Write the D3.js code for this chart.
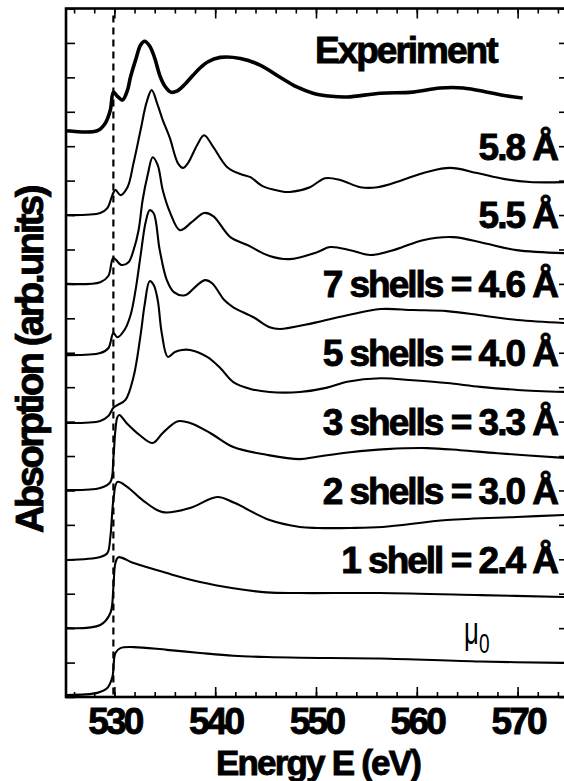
<!DOCTYPE html>
<html>
<head>
<meta charset="utf-8">
<script src="https://cdn.jsdelivr.net/npm/d3@7/dist/d3.min.js"></script>
<style>
  body { margin: 0; background: #fff; }
  svg { display: block; font-family: "Liberation Sans", Arial, sans-serif; }
  .heavy { font-weight: bold; fill: #000; stroke: #000; stroke-width: 0.9; paint-order: stroke; }
</style>
</head>
<body>
<svg id="chart" width="564" height="781"></svg>
<script>
// traces: [energy (eV), absorption relative to the trace's own baseline]
const experiment = [[525.3,0],[528.3,0],[529.1,0.22],[529.6,0.6],[529.9,1.12],[530.3,1.0],[530.8,0.89],[531.3,1.18],[531.6,1.56],[532.1,2.05],[532.6,2.49],[533.0,2.6],[533.5,2.46],[534.0,2.11],[534.5,1.61],[535.0,1.3],[535.6,1.12],[536.2,1.15],[537.0,1.35],[537.8,1.61],[538.6,1.85],[539.2,1.99],[540.5,2.13],[542.5,2.1],[544.5,1.9],[546.4,1.56],[548.1,1.27],[549.7,1.09],[551.5,1.0],[553.1,0.98],[556.4,1.09],[559.6,1.12],[562.3,1.24],[564.6,1.24],[567.0,1.12],[568.5,1.03],[570.5,0.95]];
const r58 = [[525.3,0],[528.6,0.06],[529.3,0.2],[529.8,0.58],[530.1,0.73],[530.6,0.58],[531.3,0.81],[531.9,1.51],[532.6,2.47],[533.2,3.28],[533.7,3.63],[534.3,3.19],[534.8,2.76],[535.5,2.24],[536.3,1.51],[536.8,1.37],[537.3,1.51],[538.2,2.03],[538.9,2.32],[539.8,1.98],[541.2,1.39],[542.5,1.19],[543.5,1.1],[544.7,0.84],[546.4,0.7],[547.4,0.67],[549.4,0.81],[550.9,1.07],[552.4,1.02],[554.4,0.81],[556.1,0.81],[558.6,1.02],[561.0,1.25],[563.3,1.37],[566.0,1.22],[568.6,1.05],[571.2,0.96],[575,0.96]];
const r55 = [[525.3,0],[528.6,0.05],[529.4,0.23],[529.9,0.75],[530.7,0.55],[531.4,0.63],[531.9,0.98],[532.4,1.56],[532.8,2.43],[533.3,3.16],[533.8,3.68],[534.3,3.45],[534.8,2.72],[535.5,2.09],[536.5,1.56],[537.7,1.8],[538.9,2.06],[539.8,1.97],[541.5,1.36],[543.2,1.13],[545.4,0.81],[547.4,0.72],[550.1,0.92],[551.4,1.07],[553.4,0.98],[555.4,0.84],[558.0,1.01],[560.6,1.27],[563.6,1.36],[566.6,1.19],[569.9,0.98],[575,0.89]];
const shells7 = [[525.3,0],[528.6,0.06],[529.4,0.2],[529.9,0.64],[530.3,0.52],[531.0,0.73],[531.6,1.16],[532.1,1.89],[532.6,2.9],[533.1,3.86],[533.5,4.21],[533.9,4.12],[534.5,3.05],[535.2,2.18],[535.9,1.83],[537.0,1.74],[538.2,2.03],[539.0,2.18],[539.7,2.09],[540.9,1.6],[541.8,1.39],[543.8,1.1],[545.4,0.81],[546.4,0.76],[549.7,0.93],[553.1,1.16],[556.4,1.34],[559.6,1.31],[563.0,1.28],[566.3,1.16],[570,1.02],[575,0.93]];
const shells5 = [[525.3,0],[528.6,0.06],[529.4,0.2],[529.9,0.44],[530.3,0.52],[531.1,0.67],[531.9,1.34],[532.6,2.56],[533.0,3.43],[533.5,4.12],[533.9,4.01],[534.3,3.57],[534.7,2.61],[535.3,1.92],[536.0,2.06],[536.7,2.12],[537.5,2.12],[539.2,1.92],[540.5,1.6],[541.8,1.19],[543.5,0.99],[545.4,0.9],[548.4,0.9],[551.0,1.02],[553.1,1.2],[556.4,1.3],[559.6,1.24],[563.0,1.16],[566.3,1.05],[570,0.96],[575,0.9]];
const shells3 = [[525.3,0],[528.6,0.06],[529.6,0.23],[529.9,0.93],[530.1,1.74],[530.3,2.12],[530.5,2.18],[531.2,1.95],[532.5,1.6],[533.8,1.37],[534.8,1.66],[536.3,2.0],[537.5,1.95],[539.5,1.66],[541.8,1.25],[545.2,1.02],[548.4,0.9],[550.1,0.97],[553.4,1.1],[557.0,1.19],[561.0,1.22],[564.3,1.16],[568.0,1.07],[575,0.93]];
const shells2 = [[525.3,0],[528.6,0.09],[529.3,0.2],[529.6,0.67],[529.9,1.74],[530.3,2.27],[531.3,2.12],[532.8,1.74],[534.8,1.39],[537.5,1.51],[540.2,1.83],[541.9,1.66],[545.4,1.16],[548.4,0.96],[550.1,0.93],[553.4,0.93],[556.6,0.96],[563.0,1.16],[569.9,1.25],[575,1.31]];
const shell1 = [[525.3,0],[528.6,0.09],[529.6,0.44],[529.9,1.19],[530.1,1.89],[530.4,2.06],[531.9,1.89],[535.2,1.6],[538.5,1.34],[541.8,1.16],[545.1,1.04],[548.4,1.02],[556.3,1.02],[566.3,0.96],[575,0.9]];
const mu0 = [[525.3,0],[528.3,0.06],[529.3,0.2],[529.8,0.52],[530.1,1.22],[530.6,1.36],[531.9,1.39],[535.2,1.31],[538.5,1.22],[541.8,1.14],[545.1,1.1],[548.4,1.08],[556.3,1.06],[566.3,0.97],[575,0.93]];

const traces = [experiment, r58, r55, shells7, shells5, shells3, shells2, shell1, mu0];
const offsets = [16.45, 14, 12, 9.93, 7.96, 6.01, 3.98, 2.0, 0.06];
const traceLabels = ["5.8 Å", "5.5 Å", "7 shells = 4.6 Å", "5 shells = 4.0 Å", "3 shells = 3.3 Å", "2 shells = 3.0 Å", "1 shell = 2.4 Å"];
const labelLevels = [16, 14, 12, 10, 8, 6, 4];
const edgeEnergy = 529.9;
const xMajor = [530, 540, 550, 560, 570];

const svg = d3.select("#chart");
const x = d3.scaleLinear().domain([525.2, 575]).range([66, 568]);
const y = d3.scaleLinear().domain([0, 20]).range([697, 8.5]);

svg.append("clipPath").attr("id", "plot")
  .append("rect").attr("x", 66).attr("y", 8.5).attr("width", 502).attr("height", 688.5);

// curves
const line = d3.line().curve(d3.curveCatmullRom.alpha(0.5));
const curveG = svg.append("g").attr("clip-path", "url(#plot)");
traces.forEach((t, i) => {
  curveG.append("path")
    .attr("d", line(t.map(d => [x(d[0]), y(d[1] + offsets[i])])))
    .attr("fill", "none")
    .attr("stroke", "#000")
    .attr("stroke-width", i === 0 ? 3.6 : 2.1)
    .attr("stroke-linejoin", "round");
});

// dashed edge marker
svg.append("line")
  .attr("x1", x(edgeEnergy)).attr("x2", x(edgeEnergy))
  .attr("y1", y(19.8)).attr("y2", y(0))
  .attr("stroke", "#000").attr("stroke-width", 2.2)
  .attr("stroke-dasharray", "7,5");

// axes
function styleAxis(g) {
  g.select(".domain").remove();
  g.selectAll(".tick line").attr("stroke", "#000").attr("stroke-width", 1.6);
}
const minor = d3.range(526, 576, 2);
svg.append("g").attr("transform", "translate(0,697)")
  .call(d3.axisBottom(x).tickValues(minor).tickSize(-5).tickFormat("")).call(styleAxis);
svg.append("g").attr("transform", "translate(0,8.5)")
  .call(d3.axisTop(x).tickValues(minor).tickSize(-5).tickFormat("")).call(styleAxis);
svg.append("g").attr("transform", "translate(0,8.5)")
  .call(d3.axisTop(x).tickValues(xMajor).tickSize(-10).tickFormat("")).call(styleAxis);
const bottom = svg.append("g").attr("transform", "translate(0,697)")
  .call(d3.axisBottom(x).tickValues(xMajor).tickSize(-10).tickPadding(11).tickFormat(d3.format("d")))
  .call(styleAxis);
bottom.selectAll("text")
  .attr("class", "heavy")
  .attr("font-size", 37).attr("letter-spacing", -2.8)
  .attr("font-family", "Liberation Sans, Arial, sans-serif");

svg.append("g").attr("transform", "translate(66,0)")
  .call(d3.axisLeft(y).ticks(20).tickSize(-9).tickFormat("")).call(styleAxis);
svg.append("g").attr("transform", "translate(568,0)")
  .call(d3.axisRight(y).ticks(20).tickSize(-9).tickFormat("")).call(styleAxis);

svg.append("rect")
  .attr("x", 66).attr("y", 8.5).attr("width", 502).attr("height", 688.5)
  .attr("fill", "none").attr("stroke", "#000").attr("stroke-width", 2.6);

// axis titles
svg.append("text").attr("class", "heavy")
  .attr("x", 318).attr("y", 775)
  .attr("text-anchor", "middle")
  .attr("font-size", 35).attr("letter-spacing", -1.8)
  .text("Energy E (eV)");
svg.append("text").attr("class", "heavy")
  .attr("transform", "translate(43,360) rotate(-90)")
  .attr("text-anchor", "middle")
  .attr("font-size", 38).attr("letter-spacing", -2.4)
  .text("Absorption (arb.units)");

// trace labels
svg.append("text").attr("class", "heavy")
  .attr("x", 315).attr("y", 63)
  .attr("font-size", 37).attr("letter-spacing", -2)
  .text("Experiment");
svg.selectAll(".tlabel").data(traceLabels).enter().append("text")
  .attr("class", "tlabel heavy")
  .attr("x", 557)
  .attr("y", (d, i) => y(labelLevels[i]))
  .attr("dy", "0.36em")
  .attr("text-anchor", "end")
  .attr("font-size", 37).attr("letter-spacing", -2)
  .text(d => d);

const mu = svg.append("text").attr("transform", "translate(464,644) scale(0.68,1)")
  .attr("font-size", 38);
mu.append("tspan").text("μ");
mu.append("tspan").attr("font-size", 28).attr("dy", 9).text("0");
</script>
</body>
</html>
